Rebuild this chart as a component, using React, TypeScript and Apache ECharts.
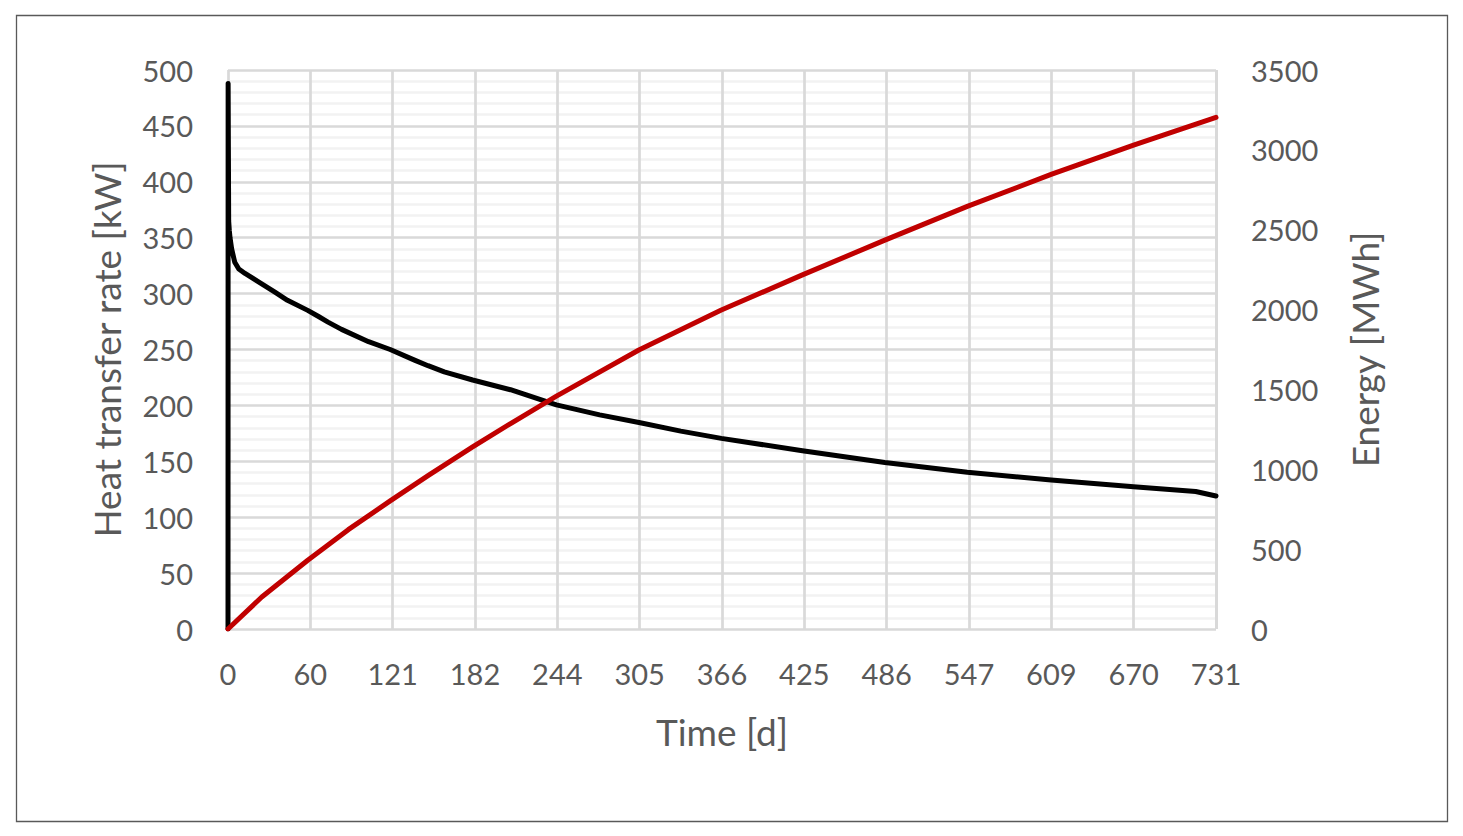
import React, { useEffect, useRef } from "react";
import * as echarts from "echarts";

// Tick labels of the time axis (12 equal divisions of 731 days)
const xTickLabels = ["0", "60", "121", "182", "244", "305", "366", "425", "486", "547", "609", "670", "731"];
const xMax = 731;

// Heat transfer rate [kW] vs time [d]
const heatDays = [0, 0.1, 0.5, 1, 1.5, 2.7, 5, 8, 12.6, 22, 35, 44, 59, 67, 74, 84, 104, 120, 138, 148, 160, 181, 209, 243, 275, 305, 335, 365, 425, 486, 547, 609, 670, 716, 731];
const heatValues = [0, 488, 365, 356, 350, 340, 328, 322, 318, 311, 301, 294, 285, 279.5, 274.5, 268, 257, 250, 240.5, 235.5, 230, 222.7, 214, 200.5, 191.5, 184.5, 177, 170.5, 159.5, 149, 140.2, 133.3, 127.3, 123, 119];

// Cumulative energy [MWh] vs time [d]
const energyDays = [0, 25, 59, 89, 120, 148, 181, 210, 243, 304, 365, 425, 486, 547, 609, 670, 731];
const energyValues = [0, 200, 430, 622, 802, 960, 1140, 1291, 1458, 1747, 1997, 2217, 2435, 2646, 2846, 3030, 3203];

const textColor = "#595959";
const font = "Lato, 'Open Sans', sans-serif";

export default function App() {
  const ref = useRef<HTMLDivElement>(null);
  useEffect(() => {
    if (!ref.current) return;
    const chart = echarts.init(ref.current, undefined, { renderer: "svg" });
    const heatData = heatDays.map((d, i) => [d, heatValues[i]]);
    const energyData = energyDays.map((d, i) => [d, energyValues[i]]);
    const step = xMax / 12;
    chart.setOption({
      animation: false,
      backgroundColor: "#ffffff",
      textStyle: { fontFamily: font },
      graphic: [
        {
          type: "rect",
          shape: { x: 16.5, y: 15.5, width: 1431, height: 806 },
          style: { fill: "none", stroke: "#595959", lineWidth: 1.3 },
          silent: true,
        },
      ],
      grid: { left: 228, right: 247, top: 70, bottom: 207, containLabel: false },
      xAxis: {
        type: "value",
        min: 0,
        max: xMax,
        interval: step,
        name: "Time [d]",
        nameLocation: "middle",
        nameGap: 84,
        nameTextStyle: { color: textColor, fontSize: 37, fontFamily: font },
        axisLine: { show: false },
        axisTick: { show: false },
        axisLabel: {
          color: textColor,
          fontSize: 29,
          fontFamily: font,
          margin: 30,
          formatter: (v: number) => xTickLabels[Math.round(v / step)] ?? "",
        },
        splitLine: { show: true, lineStyle: { color: "#d9d9d9", width: 2.7 } },
      },
      yAxis: [
        {
          type: "value",
          min: 0,
          max: 500,
          interval: 50,
          name: "Heat transfer rate [kW]",
          nameLocation: "middle",
          nameRotate: 90,
          nameGap: 103,
          nameTextStyle: { color: textColor, fontSize: 37, fontFamily: font },
          axisLine: { show: false },
          axisTick: { show: false },
          axisLabel: { color: textColor, fontSize: 29, fontFamily: font, margin: 35, formatter: (v: number) => String(v) },
          splitLine: { show: true, lineStyle: { color: "#d9d9d9", width: 2.7 } },
          minorTick: { show: false, splitNumber: 5 },
          minorSplitLine: { show: true, lineStyle: { color: "#f2f2f2", width: 2.5 } },
        },
        {
          type: "value",
          min: 0,
          max: 3500,
          interval: 500,
          position: "right",
          name: "Energy [MWh]",
          nameLocation: "middle",
          nameRotate: 90,
          nameGap: 130,
          nameTextStyle: { color: textColor, fontSize: 37, fontFamily: font },
          axisLine: { show: false },
          axisTick: { show: false },
          axisLabel: { color: textColor, fontSize: 29, fontFamily: font, margin: 35, formatter: (v: number) => String(v) },
          splitLine: { show: false },
        },
      ],
      series: [
        {
          type: "line",
          name: "Heat transfer rate",
          yAxisIndex: 0,
          data: heatData,
          symbol: "none",
          lineStyle: { color: "#000000", width: 5, cap: "round", join: "round" },
        },
        {
          type: "line",
          name: "Energy",
          yAxisIndex: 1,
          data: energyData,
          symbol: "none",
          smooth: false,
          lineStyle: { color: "#c00000", width: 5, cap: "round", join: "round" },
        },
      ],
    });
    return () => chart.dispose();
  }, []);
  return (
    <div
      ref={ref}
      style={{ position: "absolute", left: 0, top: 0, width: 1463, height: 836, background: "#fff" }}
    />
  );
}
